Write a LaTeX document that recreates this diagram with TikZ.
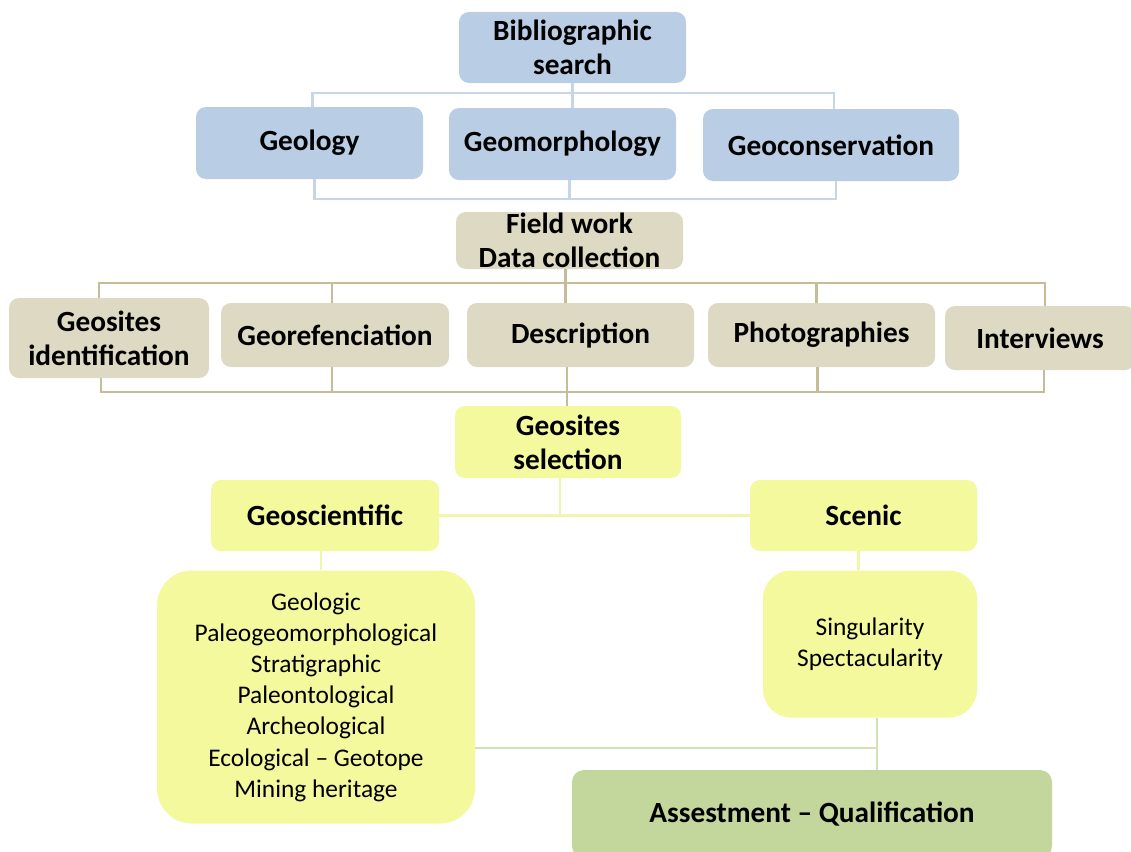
\documentclass[tikz,border=0pt]{standalone}
\usepackage{fontspec}
\setmainfont{Carlito}
\definecolor{blueF}{HTML}{B9CDE5}
\definecolor{blueL}{HTML}{C6D6EA}
\definecolor{tanF}{HTML}{DDD9C3}
\definecolor{tanL}{HTML}{C4BD97}
\definecolor{yelF}{HTML}{F4F99E}
\definecolor{yelL}{HTML}{F2F5AE}
\definecolor{grnF}{HTML}{C3D69B}
\definecolor{grnL}{HTML}{D3E1B6}
\tikzset{
  box/.style={rectangle, rounded corners=10pt, inner sep=0pt, align=center, text=black,
    font=\fontsize{29.3}{34}\selectfont\bfseries},
  bluebox/.style={box, fill=blueF},
  tanbox/.style={box, fill=tanF},
  yelbox/.style={box, fill=yelF},
  grnbox/.style={box, fill=grnF},
  regtext/.style={font=\fontsize{25.4}{31.2}\selectfont},
  bline/.style={draw=blueL, line width=2.2pt},
  tline/.style={draw=tanL, line width=2.4pt},
  yline/.style={draw=yelL, line width=2.2pt},
  gline/.style={draw=grnL, line width=2.2pt},
}
\begin{document}
\begin{tikzpicture}[x=1pt,y=-1pt]
\useasboundingbox (0,0) rectangle (1131,851);
\clip (0,0) rectangle (1131,851);
\fill[white] (0,0) rectangle (1131,851);

% blue level
\node[bluebox, minimum width=227pt, minimum height=71pt] (bib) at (572.5,47.5) {Bibliographic\\search};
\node[bluebox, minimum width=227pt, minimum height=72pt] (geol) at (309.5,143) {Geology};
\node[bluebox, minimum width=227pt, minimum height=72pt] (geom) at (562.5,144) {Geomorphology};
\node[bluebox, minimum width=256pt, minimum height=72pt] (geoc) at (831,145) {Geoconservation};

% tan level
\node[tanbox, minimum width=227pt, minimum height=57pt] (field) at (569.5,240.5) {Field work\\Data collection};
\node[tanbox, minimum width=200pt, minimum height=80pt] (ident) at (109,338) {Geosites\\identification};
\node[tanbox, minimum width=228pt, minimum height=64pt] (georef) at (335,335) {Georefenciation};
\node[tanbox, minimum width=227pt, minimum height=64pt] (desc) at (580.5,335) {Description};
\node[tanbox, minimum width=227pt, minimum height=64pt] (photo) at (821.5,335) {Photographies};
\node[tanbox, minimum width=190pt, minimum height=64pt] (interv) at (1040,338) {Interviews};

% yellow level
\node[yelbox, minimum width=226pt, minimum height=72pt] (sel) at (568,442) {Geosites\\selection};
\node[yelbox, minimum width=228pt, minimum height=71pt] (gsci) at (325,515.5) {Geoscientific};
\node[yelbox, minimum width=227pt, minimum height=71pt] (scenic) at (863.5,515.5) {Scenic};
\node[yelbox, regtext, rounded corners=35pt, minimum width=318pt, minimum height=253pt] (leftb) at (316,697)
  {Geologic\\Paleogeomorphological\\Stratigraphic\\Paleontological\\Archeological\\Ecological -- Geotope\\Mining heritage};
\node[yelbox, regtext, rounded corners=28pt, minimum width=214pt, minimum height=147pt] (rightb) at (870,644)
  {Singularity\\Spectacularity};

% green
\node[grnbox, rounded corners=12pt, minimum width=480pt, minimum height=88pt] (assess) at (812,814) {Assestment -- Qualification};

% blue connectors
\coordinate (bj) at (0,93);
\coordinate (bb) at (0,199);
\draw[bline] (bib.south) -- (bib.south |- geom.north);
\draw[bline] ([xshift=3pt]geol.north) -- ([xshift=3pt]geol.north |- bj) -- ([xshift=3pt]geoc.north |- bj) -- ([xshift=3pt]geoc.north);
\draw[bline] ([xshift=5pt]geol.south) -- ([xshift=5pt]geol.south |- bb) -- ([xshift=5pt]geoc.south |- bb) -- ([xshift=5pt]geoc.south);
\draw[bline] ([xshift=7pt]geom.south) -- ([xshift=7pt]geom.south |- bb);

% tan connectors
\coordinate (tt) at (0,283);
\coordinate (tb) at (0,392);
\draw[tline] ([xshift=-4pt]field.south) -- ([xshift=-4pt]field.south |- desc.north);
\draw[tline] ([xshift=-10pt]ident.north) -- ([xshift=-10pt]ident.north |- tt) -- ([xshift=5pt]interv.north |- tt) -- ([xshift=5pt]interv.north);
\draw[tline] ([xshift=-3pt]georef.north) -- ([xshift=-3pt]georef.north |- tt);
\draw[tline] ([xshift=-5pt]photo.north) -- ([xshift=-5pt]photo.north |- tt);
\draw[tline] ([xshift=-8pt]ident.south) -- ([xshift=-8pt]ident.south |- tb) -- ([xshift=4pt]interv.south |- tb) -- ([xshift=4pt]interv.south);
\draw[tline] ([xshift=-3pt]georef.south) -- ([xshift=-3pt]georef.south |- tb);
\draw[tline] ([xshift=-4pt]photo.south) -- ([xshift=-4pt]photo.south |- tb);
\draw[tline] ([xshift=-1pt]sel.north) -- ([xshift=-1pt]sel.north |- desc.south);

% yellow connectors
\draw[yline] ([xshift=-8pt]sel.south) -- ([xshift=-8pt]sel.south |- gsci.east);
\draw[yline] (gsci.east) -- (scenic.west);
\draw[yline] ([xshift=-4pt]gsci.south) -- ([xshift=-4pt]gsci.south |- leftb.north);
\draw[yline] ([xshift=-5pt]scenic.south) -- ([xshift=-5pt]scenic.south |- rightb.north);

% green connectors
\coordinate (gj) at (877,748);
\draw[gline] ([xshift=7pt]rightb.south) -- ([xshift=7pt]rightb.south |- assess.north);
\draw[gline] (leftb.east |- gj) -- (gj);
\end{tikzpicture}
\end{document}
